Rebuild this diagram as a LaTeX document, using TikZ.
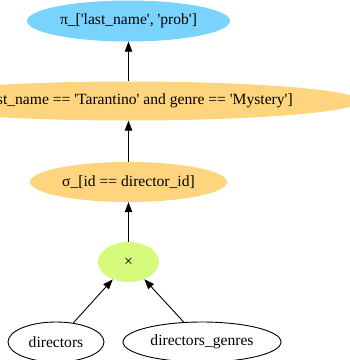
\documentclass[tikz,border=0pt]{standalone}
\usepackage{fontspec}
\setmainfont[Ligatures=TeXOff]{Liberation Serif}
\usetikzlibrary{shapes.geometric,arrows.meta}
\definecolor{projblue}{HTML}{7AD3FC}
\definecolor{selorange}{HTML}{FFD47F}
\definecolor{crossgreen}{HTML}{D5FA7C}
\tikzset{
  opnode/.style={ellipse, inner sep=0pt, font=\rmfamily\fontsize{15.6}{18}\selectfont},
  relnode/.style={ellipse, draw=black, line width=0.9pt, inner sep=0pt, font=\rmfamily\fontsize{15.6}{18}\selectfont},
  edge/.style={draw=black, line width=0.9pt, -{Triangle[length=10pt,width=7.5pt]}}
}
\begin{document}
\begin{tikzpicture}[x=1pt,y=-1pt]
\useasboundingbox (0,0) rectangle (350,360);
\node[opnode, fill=projblue, minimum width=203pt, minimum height=41pt] (proj) at (128.5,21) {π\_['last\_name', 'prob']};
\node[opnode, fill=selorange, minimum width=446pt, minimum height=39pt] (sel2) at (128.5,101) {σ\_[last\_name == 'Tarantino' and genre == 'Mystery']};
\node[opnode, fill=selorange, minimum width=197pt, minimum height=40pt] (sel1) at (128.5,182) {σ\_[id == director\_id]};
\node[opnode, fill=crossgreen, minimum width=61pt, minimum height=40pt] (cross) at (128.5,262) {×};
\node[relnode, minimum width=96pt, minimum height=40pt] (dir) at (56,342) {directors};
\node[relnode, minimum width=158pt, minimum height=40pt] (dg) at (202,342) {directors\_genres};
\draw[edge] (sel2) -- (proj);
\draw[edge] (sel1) -- (sel2);
\draw[edge] (cross) -- (sel1);
\draw[edge] (dir) -- (cross);
\draw[edge] (dg) -- (cross);
\end{tikzpicture}
\end{document}
